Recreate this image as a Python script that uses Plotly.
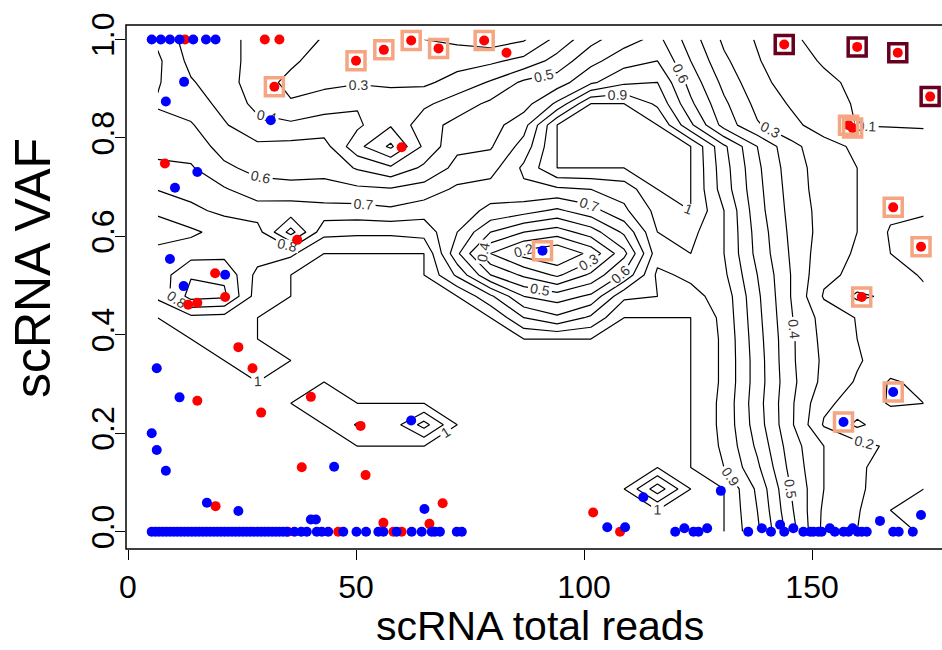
import plotly.graph_objects as go

# ---------------- contour grid (node positions and surface values) ----------------
grid_x = [6.5, 13.8, 21.1, 28.4, 35.7, 43.0, 50.3, 57.6, 64.9, 72.2, 79.5, 86.8,
          94.1, 101.5, 108.8, 116.1, 123.4, 130.7, 138.0, 145.3, 152.6, 159.9, 167.2, 174.5]
grid_y = [0, 0.0435, 0.087, 0.1304, 0.1739, 0.2174, 0.2609, 0.3043, 0.3478, 0.3913,
          0.4348, 0.4783, 0.5217, 0.5652, 0.6087, 0.6522, 0.6957, 0.7391, 0.7826,
          0.8261, 0.8696, 0.913, 0.9565, 1.0]

z_rows = [
    [1,1,1,1,1,1,1,1,1,1,1,1,1,1,1,1,1,1,.82,.55,.27,.20,.13,.09],
    [1,1,1,1,1,1,1,1,1,1,1,1,1,1,1,1,1,1,.80,.52,.28,.21,.10,.08],
    [1,1,1,1,1,1,1,1,1,1,1,1,1,1,1,.74,1,1,.78,.50,.30,.22,.14,.10],
    [1,1,1,1,1,1,1,1,1,1,1,1,1,1,1,1,1,.90,.72,.47,.30,.22,.15,.13],
    [1,1,1,1,1,1,1,1,1,1,1,1,1,1,1,1,1,.88,.68,.45,.30,.24,.18,.14],
    [1,1,1,1,1,1,.89,.96,.76,1,1,1,1,1,1,1,1,.87,.65,.42,.19,.08,.16,.14],
    [1,1,1,1,1,.95,1,1,1,1,1,1,1,1,1,1,1,.87,.64,.42,.22,.16,.09,.10],
    [1,1,1,1,1,1,1,1,1,1,1,1,1,1,1,1,1,.88,.65,.43,.27,.19,.09,.12],
    [1,1,1,.95,1,1,1,1,1,1,1,1,1,1,1,1,1,.88,.65,.42,.28,.21,.15,.13],
    [1,1,.95,1,1,1,1,1,1,1,1,1,1,1,1,1,1,.88,.64,.42,.27,.20,.16,.13],
    [1,.93,.94,1,1,1,1,1,1,1,1,.80,.72,.82,1,1,1,.87,.63,.41,.26,.195,.15,.12],
    [.88,.66,.68,.95,1,1,1,1,1,1,.82,.60,.55,.62,.88,.90,.93,.86,.62,.40,.19,.08,.12,.11],
    [.86,.71,.72,.93,1,1,1,1,1,.78,.50,.38,.28,.42,.62,.92,.88,.82,.60,.40,.22,.18,.12,.095],
    [.88,.84,.83,.85,.88,1,1,1,1,.62,.30,.16,.10,.23,.47,.86,.90,.80,.57,.39,.24,.19,.10,.08],
    [.93,.92,.86,.84,.56,.87,.88,.88,.86,.70,.50,.40,.35,.45,.62,.90,.93,.80,.56,.38,.26,.20,.09,.07],
    [.89,.82,.78,.75,.76,.74,.74,.72,.76,.74,.68,.64,.58,.66,.78,.93,1,.80,.54,.37,.26,.20,.12,.11],
    [.795,.77,.71,.64,.63,.63,.62,.61,.64,.72,.74,.78,.78,.80,.84,1,1,.75,.53,.36,.25,.20,.17,.15],
    [.72,.71,.62,.57,.56,.57,.49,.42,.52,.63,.66,.82,1,1,1,1,1,.74,.52,.35,.25,.20,.16,.14],
    [.67,.66,.56,.52,.53,.54,.33,.18,.42,.58,.59,.74,1,1,1,1,1,.72,.50,.33,.24,.18,.14,.12],
    [.63,.61,.51,.43,.42,.44,.42,.31,.46,.53,.56,.66,1,1,1,1,.72,.46,.31,.23,.15,.097,.096,.096],
    [.59,.55,.47,.37,.31,.36,.39,.39,.38,.45,.52,.56,.72,1,1,.88,.62,.42,.27,.19,.12,.095,.09,.09],
    [.61,.51,.44,.35,.27,.27,.29,.27,.28,.34,.41,.52,.55,.68,.78,.80,.56,.37,.23,.16,.11,.09,.09,.09],
    [.62,.47,.43,.37,.32,.25,.22,.22,.23,.26,.28,.33,.44,.57,.66,.70,.50,.32,.21,.12,.095,.09,.09,.09],
    [.58,.45,.42,.38,.36,.29,.23,.21,.20,.18,.15,.19,.33,.47,.56,.63,.45,.28,.19,.105,.09,.09,.09,.09],
]

# ---------------- points ----------------
blue_zero_x = [5.2, 6.0, 6.8, 7.6, 8.4, 9.2, 10.0, 10.8, 11.6, 12.4, 13.2, 14.0, 14.8, 15.6,
               16.4, 17.2, 18.0, 18.8, 19.6, 20.4, 21.2, 22.0, 22.8, 23.6, 24.4, 25.2, 26.0,
               26.8, 27.6, 28.4, 29.2, 30.0, 30.8, 31.6, 32.4, 33.2, 34.0, 34.8, 36.5, 38.0,
               39.2, 41.4, 42.5, 43.9, 47.2, 50.1, 52.2, 54.9, 56.0, 58.9, 62.2, 64.4, 66.6,
               67.3, 68.4, 72.1, 73.2, 120.0, 124.0, 125.1, 136.0, 141.0, 143.9, 148.1, 149.6,
               150.3, 151.4, 152.1, 155.0, 156.9, 158.0, 160.0, 160.9, 162.0, 167.8, 169.0, 172.1]
blue_x = [5.2, 7.2, 9.2, 11.3, 14.3, 17.1, 19.2, 12.3, 8.3, 31.3, 15.2, 10.3, 9.2, 21.3, 12.2,
          6.3, 11.3, 62.1, 5.2, 6.3, 8.3, 45.2, 17.3, 24.2, 40.1, 41.2, 65.0, 90.9, 113.0,
          130.0, 167.8, 156.9, 164.9, 173.9, 105.1, 109.0, 122.0, 127.0, 139.0, 143.0,
          145.9, 153.9, 158.9]
blue_y = [1, 1, 1, 1, 1, 1, 1, 0.914, 0.874, 0.836, 0.731, 0.699, 0.554, 0.522, 0.499,
          0.332, 0.273, 0.226, 0.2, 0.166, 0.124, 0.132, 0.059, 0.042, 0.025, 0.025, 0.046,
          0.571, 0.07, 0.083, 0.284, 0.223, 0.022, 0.034, 0.009, 0.009, 0.007, 0.007, 0.007,
          0.014, 0.007, 0.007, 0.007]
red_x = [12.5, 30.0, 33.2, 32.1, 50.0, 56.1, 62.1, 68.1, 78.1, 83.0, 60.0, 8.1, 37.1, 19.1,
         21.3, 15.2, 13.2, 24.2, 27.3, 15.2, 40.1, 29.2, 51.0, 38.1, 52.1, 19.2, 69.0, 56.0,
         66.1, 102.0, 143.9, 159.9, 168.8, 175.9, 158.0, 158.9, 167.8, 173.9, 160.9,
         35.1, 46.1, 58.2, 60.0, 107.9]
red_y = [1, 1, 1, 0.904, 0.957, 0.979, 0.998, 0.982, 0.998, 0.973, 0.781, 0.748, 0.593, 0.525,
         0.477, 0.465, 0.461, 0.375, 0.332, 0.266, 0.274, 0.242, 0.215, 0.131, 0.115, 0.052,
         0.058, 0.018, 0.016, 0.039, 0.99, 0.985, 0.973, 0.884, 0.826, 0.82, 0.659, 0.579,
         0.477, 0, 0, 0, 0, 0]

orange_sq_x = [32.1, 50.0, 56.1, 62.1, 68.1, 78.1, 90.9, 158.0, 158.9, 167.8, 173.9, 160.9, 167.8, 156.9]
orange_sq_y = [0.904, 0.957, 0.979, 0.998, 0.982, 0.998, 0.571, 0.826, 0.82, 0.659, 0.579, 0.477, 0.284, 0.223]
dark_sq_x = [143.9, 159.9, 168.8, 175.9]
dark_sq_y = [0.99, 0.985, 0.973, 0.884]

x_ticks = [0, 50, 100, 150]
y_ticks = [0.0, 0.2, 0.4, 0.6, 0.8, 1.0]
y_tick_text = ["0.0", "0.2", "0.4", "0.6", "0.8", "1.0"]

FONT = "Liberation Sans, Arial, sans-serif"

fig = go.Figure()
fig.add_trace(go.Contour(
    x=grid_x, y=grid_y, z=z_rows,
    contours=dict(start=0.1, end=1.0, size=0.1, coloring="lines", showlabels=True,
                  labelfont=dict(family=FONT, size=14, color="#333333")),
    line=dict(width=1.2, smoothing=0),
    colorscale=[[0, "black"], [1, "black"]],
    showscale=False, hoverinfo="skip",
))
fig.add_trace(go.Scatter(x=red_x, y=red_y, mode="markers",
                         marker=dict(color="#FF0000", size=10), hoverinfo="skip"))
fig.add_trace(go.Scatter(x=blue_zero_x, y=[0] * len(blue_zero_x), mode="markers",
                         marker=dict(color="#0000FF", size=10), hoverinfo="skip"))
fig.add_trace(go.Scatter(x=blue_x, y=blue_y, mode="markers",
                         marker=dict(color="#0000FF", size=10), hoverinfo="skip"))
fig.add_trace(go.Scatter(x=orange_sq_x, y=orange_sq_y, mode="markers",
                         marker=dict(symbol="square-open", size=18, color="#F4A582",
                                     line=dict(width=3.5, color="#F4A582")), hoverinfo="skip"))
fig.add_trace(go.Scatter(x=dark_sq_x, y=dark_sq_y, mode="markers",
                         marker=dict(symbol="square-open", size=18, color="#67001F",
                                     line=dict(width=3.5, color="#67001F")), hoverinfo="skip"))

fig.update_layout(
    width=942, height=650,
    margin=dict(l=126, r=0, t=25, b=101),
    paper_bgcolor="white", plot_bgcolor="white",
    showlegend=False,
    font=dict(family=FONT, color="black"),
    xaxis=dict(range=[-0.44, 178.5], tickvals=x_ticks, ticks="outside", ticklen=10,
               tickcolor="black", tickwidth=1, showgrid=False, zeroline=False, showline=False,
               tickfont=dict(family=FONT, size=32, color="black"), ticklabelstandoff=0),
    yaxis=dict(range=[-0.0351, 1.0295], tickvals=y_ticks, ticktext=y_tick_text, tickangle=-90,
               ticks="outside", ticklen=10, tickcolor="black", tickwidth=1, showgrid=False,
               zeroline=False, showline=False, ticklabelstandoff=-12,
               tickfont=dict(family=FONT, size=32, color="black")),
    shapes=[dict(type="rect", xref="paper", yref="paper", x0=0, x1=1.05, y0=0, y1=1,
                 line=dict(color="black", width=1.5))],
    annotations=[
        dict(text="scRNA total reads", xref="paper", yref="paper", x=0.507, y=-0.147,
             xanchor="center", yanchor="middle", showarrow=False,
             font=dict(family=FONT, size=41, color="black")),
        dict(text="scRNA VAF", xref="paper", yref="paper", x=-0.114, y=0.536,
             xanchor="center", yanchor="middle", showarrow=False, textangle=-90,
             font=dict(family=FONT, size=50, color="black")),
    ],
)

fig.write_html("out.html", config={"displayModeBar": False},
               post_script="document.body.style.margin='0px';")
